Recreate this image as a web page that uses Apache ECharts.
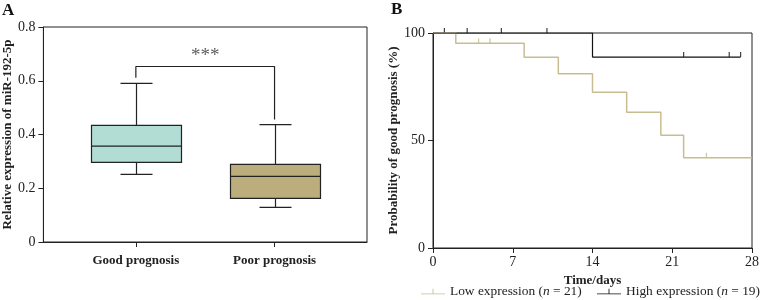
<!DOCTYPE html>
<html>
<head>
<meta charset="utf-8">
<script src="https://cdn.jsdelivr.net/npm/echarts@6/dist/echarts.min.js"></script>
<style>html,body{margin:0;padding:0;background:#fff}#c{width:762px;height:300px}</style>
</head>
<body>
<div id="c"></div>
<script>
// ---- Panel A data ----
const boxCategories = ['Good prognosis', 'Poor prognosis'];
// [lower whisker, Q1, median, Q3, upper whisker]
const boxStats = [
  [0.252, 0.296, 0.357, 0.434, 0.590],
  [0.129, 0.162, 0.244, 0.289, 0.437]
];
const boxColors = ['#b1ddd5', '#bcae7c'];
const yTicksA = [0, 0.2, 0.4, 0.6, 0.8];
const sigBracketY = [0.611, 0.653, 0.653, 0.456];
const sigText = '***';

// ---- Panel B data ----
const kmTimeTicks = [0, 7, 14, 21, 28];
const lowName = 'Low expression (n = 21)';
const highName = 'High expression (n = 19)';
const lowSteps = [[0, 100], [2, 95.2], [8, 88.7], [11, 81.1], [14, 72.4], [17, 63.1], [20, 52.4], [22, 42.0], [28, 42.0]];
const lowCensored = [[4, 95.2], [5, 95.2], [24, 42.0]];
const highSteps = [[0, 100], [14, 88.8], [27, 88.8]];
const highCensored = [[1, 100], [3, 100], [6, 100], [10, 100], [22, 88.8], [26, 88.8], [27, 88.8]];
const lowColor = '#c8bd92';
const highColor = '#111111';

const catPos = i => 1 + i * 1.5;
const serif = '"Liberation Serif", "DejaVu Serif", serif';

const chart = echarts.init(document.getElementById('c'), null, {renderer: 'canvas'});

function renderBox(params, api) {
  const x = api.value(0);
  const lo = api.value(1), q1 = api.value(2), med = api.value(3), q3 = api.value(4), hi = api.value(5);
  const halfW = 45, capW = 16;
  const pQ3 = api.coord([x, q3]), pQ1 = api.coord([x, q1]), pMed = api.coord([x, med]);
  const pLo = api.coord([x, lo]), pHi = api.coord([x, hi]);
  const cx = Math.round(pQ3[0]) + 0.5;
  const ls = {stroke: '#222', lineWidth: 1.2};
  return {
    type: 'group',
    children: [
      {type: 'line', shape: {x1: cx, y1: pHi[1], x2: cx, y2: pQ3[1]}, style: ls},
      {type: 'line', shape: {x1: cx, y1: pQ1[1], x2: cx, y2: pLo[1]}, style: ls},
      {type: 'line', shape: {x1: cx - capW, y1: pHi[1], x2: cx + capW, y2: pHi[1]}, style: ls},
      {type: 'line', shape: {x1: cx - capW, y1: pLo[1], x2: cx + capW, y2: pLo[1]}, style: ls},
      {type: 'rect', shape: {x: cx - halfW, y: pQ3[1], width: 2 * halfW, height: pQ1[1] - pQ3[1]},
        style: {fill: boxColors[params.dataIndex], stroke: '#222', lineWidth: 1.2}},
      {type: 'line', shape: {x1: cx - halfW, y1: pMed[1], x2: cx + halfW, y2: pMed[1]}, style: ls}
    ]
  };
}

const censorSymbol = 'path://M0,0 L1,0 L1,10 L0,10 Z';
const legendIcon = 'path://M0,9 L40,9 L40,10.5 L0,10.5 Z M19.3,1 L20.7,1 L20.7,9 L19.3,9 Z';
const legendText = {
  fontSize: 13.4, color: '#222', fontFamily: serif,
  rich: {a: {fontSize: 13.4, color: '#222', fontFamily: serif}, i: {fontSize: 13.4, fontStyle: 'italic', color: '#222', fontFamily: serif}}
};
const legendFmt = name => {
  const m = name.match(/^(.*\()n( = \d+\))$/);
  return m ? '{a|' + m[1] + '}{i|n}{a|' + m[2] + '}' : name;
};

chart.setOption({
  animation: false,
  textStyle: {fontFamily: serif},
  graphic: [
    {type: 'text', left: 2, top: 2, style: {text: 'A', font: 'bold 17px ' + serif, fill: '#111'}},
    {type: 'text', left: 391, top: 1, style: {text: 'B', font: 'bold 17px ' + serif, fill: '#111'}}
  ],
  grid: [
    {left: 42, top: 27, width: 325, bottom: 58, show: true, borderColor: '#222', borderWidth: 1},
    {left: 433, top: 33, width: 323, bottom: 52, show: true, borderColor: '#222', borderWidth: 1}
  ],
  xAxis: [
    {
      type: 'value', gridIndex: 0, min: 0, max: 3.5, splitLine: {show: false},
      axisLine: {lineStyle: {color: '#222'}},
      axisTick: {show: true, length: 5, customValues: boxCategories.map((c, i) => catPos(i)), lineStyle: {color: '#222'}},
      axisLabel: {
        customValues: boxCategories.map((c, i) => catPos(i)),
        formatter: v => boxCategories[Math.round((v - 1) / 1.5)] || '',
        fontWeight: 'bold', fontSize: 13, color: '#222', margin: 12, fontFamily: serif
      }
    },
    {
      type: 'value', gridIndex: 1, min: 0, max: 28, interval: 7, splitLine: {show: false},
      axisLine: {lineStyle: {color: '#222'}},
      axisTick: {length: 5, lineStyle: {color: '#222'}},
      axisLabel: {fontSize: 14, color: '#222', margin: 7, fontFamily: serif},
      name: 'Time/days', nameLocation: 'middle', nameGap: 20,
      nameTextStyle: {fontWeight: 'bold', fontSize: 13, color: '#222', fontFamily: serif}
    }
  ],
  yAxis: [
    {
      type: 'value', gridIndex: 0, min: 0, max: 0.8, interval: 0.2, splitLine: {show: false},
      axisLine: {show: true, lineStyle: {color: '#222'}},
      axisTick: {show: true, length: 5, lineStyle: {color: '#222'}},
      axisLabel: {fontSize: 14, color: '#222', margin: 8, fontFamily: serif,
        formatter: v => (v === 0 ? '0' : v.toFixed(1))},
      name: 'Relative expression of miR-192-5p', nameLocation: 'middle', nameGap: 28,
      nameTextStyle: {fontWeight: 'bold', fontSize: 13, color: '#222', fontFamily: serif}
    },
    {
      type: 'value', gridIndex: 1, min: 0, max: 100, interval: 50, splitLine: {show: false},
      axisLine: {show: true, lineStyle: {color: '#222'}},
      axisTick: {show: true, length: 5, lineStyle: {color: '#222'}},
      axisLabel: {fontSize: 14, color: '#222', margin: 8, fontFamily: serif},
      name: 'Probability of good prognosis (%)', nameLocation: 'middle', nameGap: 27,
      nameTextStyle: {fontWeight: 'bold', fontSize: 13, color: '#222', fontFamily: serif}
    }
  ],
  legend: [
    {left: 421, top: 285, padding: 0, itemWidth: 24, itemHeight: 8, data: [{name: lowName, icon: legendIcon}],
      formatter: legendFmt, textStyle: legendText},
    {left: 597, top: 285, padding: 0, itemWidth: 24, itemHeight: 8, data: [{name: highName, icon: legendIcon}],
      formatter: legendFmt, textStyle: legendText}
  ],
  series: [
    {
      type: 'custom', xAxisIndex: 0, yAxisIndex: 0, renderItem: renderBox,
      data: boxStats.map((s, i) => [catPos(i)].concat(s)),
      encode: {x: 0, y: [1, 2, 3, 4, 5]}
    },
    {
      type: 'line', xAxisIndex: 0, yAxisIndex: 0, symbol: 'none',
      lineStyle: {color: '#222', width: 1.2},
      data: sigBracketY.map((y, i) => [catPos(i < 2 ? 0 : 1), y]),
      silent: true
    },
    {
      type: 'scatter', xAxisIndex: 0, yAxisIndex: 0, symbolSize: 0,
      data: [[(catPos(0) + catPos(1)) / 2, sigBracketY[1]]],
      label: {show: true, position: 'top', distance: 1, formatter: sigText, fontSize: 19, color: '#333', fontFamily: serif}
    },
    {
      name: lowName, type: 'line', xAxisIndex: 1, yAxisIndex: 1, step: 'end', symbol: 'none',
      color: lowColor, lineStyle: {color: lowColor, width: 1.5}, data: lowSteps
    },
    {
      name: highName, type: 'line', xAxisIndex: 1, yAxisIndex: 1, step: 'end', symbol: 'none',
      color: highColor, lineStyle: {color: highColor, width: 1.2}, data: highSteps
    },
    {
      type: 'scatter', xAxisIndex: 1, yAxisIndex: 1, symbol: censorSymbol, symbolSize: [1.3, 5], symbolOffset: [0, -2.5],
      itemStyle: {color: lowColor}, data: lowCensored
    },
    {
      type: 'scatter', xAxisIndex: 1, yAxisIndex: 1, symbol: censorSymbol, symbolSize: [1.2, 5], symbolOffset: [0, -2.5],
      itemStyle: {color: highColor}, data: highCensored
    }
  ]
});
</script>
</body>
</html>
